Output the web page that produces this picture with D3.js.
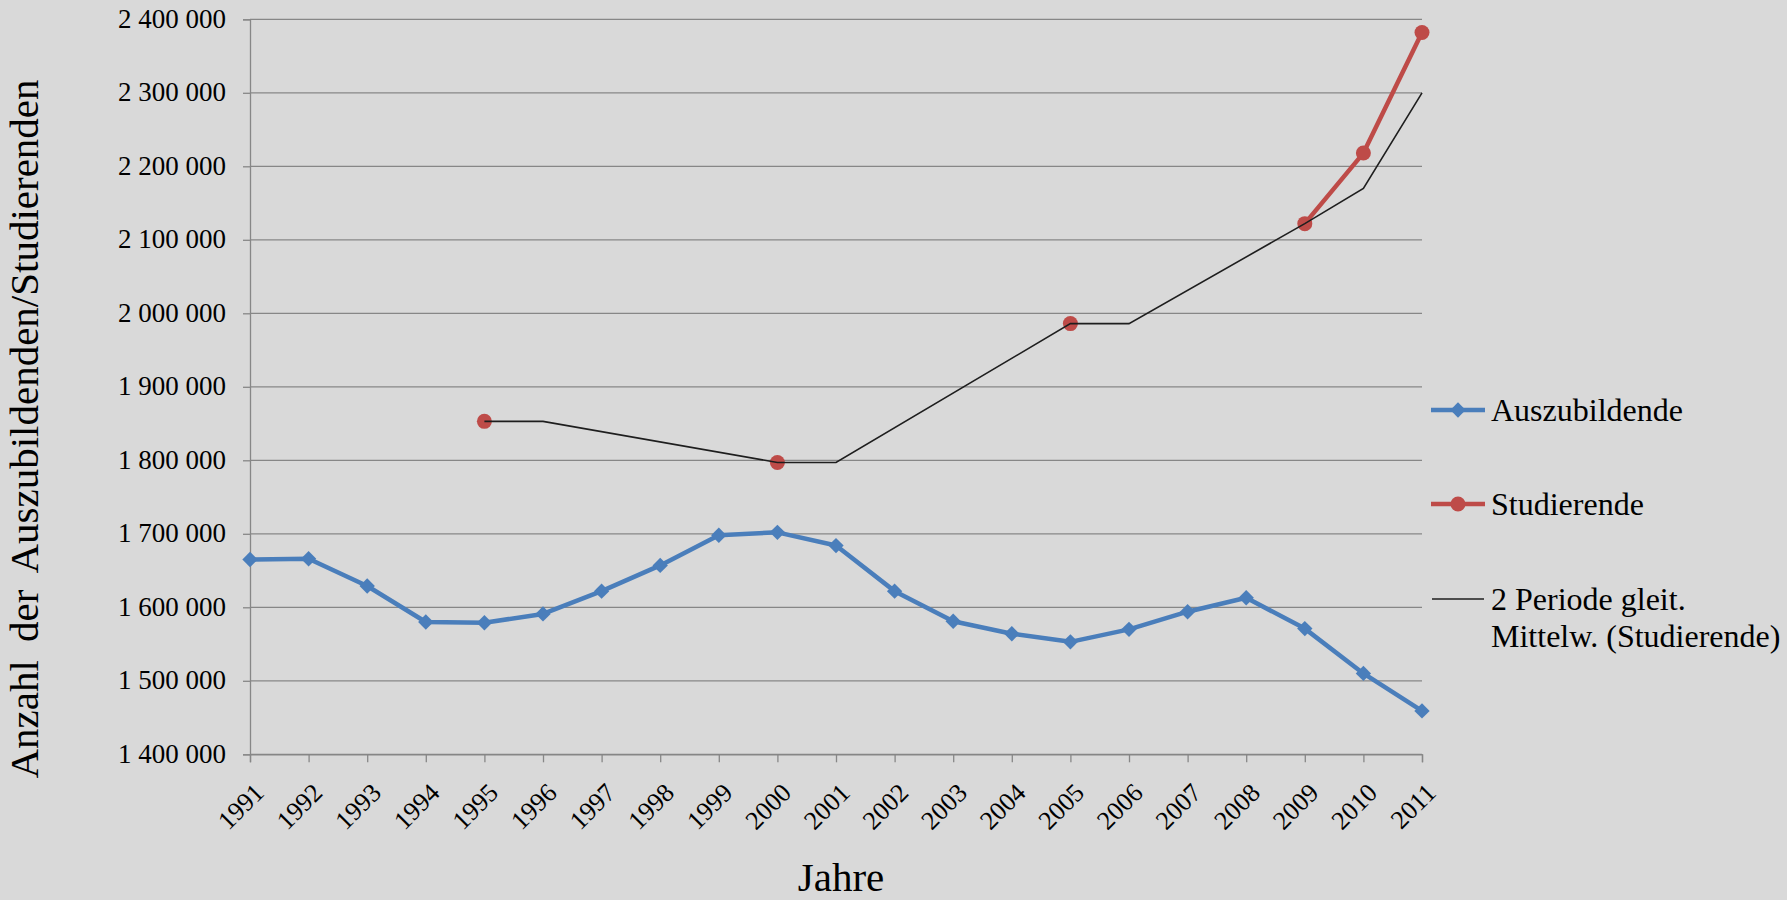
<!DOCTYPE html>
<html>
<head>
<meta charset="utf-8">
<script src="https://cdn.jsdelivr.net/npm/d3@7"></script>
<style>
  html, body { margin: 0; padding: 0; background: #d9d9d9; }
  svg { display: block; }
  text { font-family: "Liberation Serif", "Times New Roman", serif; fill: #000; }
</style>
</head>
<body>
<svg id="chart" width="1787" height="900"></svg>
<script>
// Jahre 1991–2011
const years = [1991, 1992, 1993, 1994, 1995, 1996, 1997, 1998, 1999, 2000,
               2001, 2002, 2003, 2004, 2005, 2006, 2007, 2008, 2009, 2010, 2011];

// Auszubildende je Jahr
const auszubildende = [1665000, 1666000, 1629000, 1580000, 1579000, 1591000, 1622000,
                       1657000, 1698000, 1702000, 1684000, 1622000, 1581000, 1564000,
                       1553000, 1570000, 1594000, 1613000, 1571000, 1510000, 1459000];

// Studierende (nur einzelne Jahre erhoben)
const studierende = [null, null, null, null, 1853000, null, null, null, null, 1797000,
                     null, null, null, null, 1986000, null, null, null, 2122000, 2218000, 2382000];

// Gleitender Mittelwert über 2 Perioden (Studierende)
const mittelwert = [null, null, null, null, 1853000, 1853000, null, null, null, 1797000,
                    1797000, null, null, null, 1986000, 1986000, null, null, 2122000, 2170000, 2300000];

const yTicks = [1400000, 1500000, 1600000, 1700000, 1800000, 1900000,
                2000000, 2100000, 2200000, 2300000, 2400000];

const legendLabels = ["Auszubildende", "Studierende", ["2 Periode gleit.", "Mittelw. (Studierende)"]];

(function () {
  const svg = d3.select("#chart");
  const plotLeft = 250, plotRight = 1422, plotTop = 19.3, plotBottom = 754.3;

  const x = d3.scaleLinear().domain([1991, 2011]).range([plotLeft, plotRight]);
  const y = d3.scaleLinear().domain([1400000, 2400000]).range([plotBottom, plotTop]);

  const locale = d3.formatLocale({ decimal: ",", thousands: "\u00a0", grouping: [3], currency: ["", ""] });
  const fmt = locale.format(",d");

  const gridColor = "#878787";
  const serif = "'Liberation Serif', 'Times New Roman', serif";

  // Gitternetzlinien
  svg.append("g")
    .selectAll("line")
    .data(yTicks)
    .join("line")
    .attr("x1", plotLeft).attr("x2", plotRight)
    .attr("y1", d => y(d)).attr("y2", d => y(d))
    .attr("stroke", gridColor).attr("stroke-width", 1.3);

  // Y-Achse
  const yAxis = svg.append("g")
    .attr("transform", `translate(${plotLeft},0)`)
    .call(d3.axisLeft(y).tickValues(yTicks).tickSize(7).tickPadding(17).tickFormat(fmt));
  yAxis.attr("font-family", null).attr("font-size", null);
  yAxis.select(".domain").attr("stroke", gridColor).attr("stroke-width", 1.3);
  yAxis.selectAll(".tick line").attr("stroke", gridColor).attr("stroke-width", 1.3);
  yAxis.selectAll(".tick text")
    .style("font-family", serif).style("font-size", "27px")
    .attr("fill", "#000").attr("dy", "0.3em");

  // X-Achse
  const xAxis = svg.append("g")
    .attr("transform", `translate(0,${plotBottom})`)
    .call(d3.axisBottom(x).tickValues(years).tickSize(8).tickFormat(d3.format("d")));
  xAxis.attr("font-family", null).attr("font-size", null);
  xAxis.select(".domain").attr("stroke", gridColor).attr("stroke-width", 1.3);
  xAxis.selectAll(".tick line").attr("stroke", gridColor).attr("stroke-width", 1.3);
  xAxis.selectAll(".tick text")
    .style("font-family", serif).style("font-size", "26px")
    .attr("fill", "#000")
    .attr("text-anchor", "end")
    .attr("y", 0).attr("dy", "0.32em")
    .attr("transform", "translate(9,34) rotate(-45)");

  // Achsentitel
  svg.append("text")
    .attr("transform", "translate(38,429) rotate(-90)")
    .attr("text-anchor", "middle")
    .style("font-size", "41px")
    .style("word-spacing", "8px")
    .text("Anzahl der Auszubildenden/Studierenden");

  svg.append("text")
    .attr("x", 841).attr("y", 891)
    .attr("text-anchor", "middle")
    .style("font-size", "41px")
    .text("Jahre");

  const blue = "#4a7ebb", red = "#be4b48";

  const azData = years.map((yr, i) => ({ yr, v: auszubildende[i] }));
  const stData = years.map((yr, i) => ({ yr, v: studierende[i] }));
  const maData = years.map((yr, i) => ({ yr, v: mittelwert[i] })).filter(d => d.v !== null);

  const line = d3.line().x(d => x(d.yr)).y(d => y(d.v));
  const lineGaps = d3.line().defined(d => d.v !== null).x(d => x(d.yr)).y(d => y(d.v));

  // Auszubildende
  svg.append("path").datum(azData)
    .attr("d", line).attr("fill", "none")
    .attr("stroke", blue).attr("stroke-width", 4.5).attr("stroke-linejoin", "round");

  const diamond = d3.symbol().type(d3.symbolDiamond2).size(150);
  svg.append("g").selectAll("path")
    .data(azData).join("path")
    .attr("transform", d => `translate(${x(d.yr)},${y(d.v)})`)
    .attr("d", diamond).attr("fill", blue);

  // Studierende
  svg.append("path").datum(stData)
    .attr("d", lineGaps).attr("fill", "none")
    .attr("stroke", red).attr("stroke-width", 4.5).attr("stroke-linejoin", "round");

  svg.append("g").selectAll("circle")
    .data(stData.filter(d => d.v !== null)).join("circle")
    .attr("cx", d => x(d.yr)).attr("cy", d => y(d.v)).attr("r", 7.5)
    .attr("fill", red);

  // Gleitender Mittelwert
  svg.append("path").datum(maData)
    .attr("d", line).attr("fill", "none")
    .attr("stroke", "#1e1e1e").attr("stroke-width", 1.6);

  // Legende
  const lg = svg.append("g");
  const lx1 = 1431, lx2 = 1485, lxm = 1458, tx = 1491;

  lg.append("line").attr("x1", lx1).attr("x2", lx2).attr("y1", 410).attr("y2", 410)
    .attr("stroke", blue).attr("stroke-width", 4.5);
  lg.append("path").attr("transform", `translate(${lxm},410)`).attr("d", diamond).attr("fill", blue);
  lg.append("text").attr("x", tx).attr("y", 421).style("font-size", "32px").text(legendLabels[0]);

  lg.append("line").attr("x1", lx1).attr("x2", lx2).attr("y1", 504).attr("y2", 504)
    .attr("stroke", red).attr("stroke-width", 4.5);
  lg.append("circle").attr("cx", lxm).attr("cy", 504).attr("r", 7.5).attr("fill", red);
  lg.append("text").attr("x", tx).attr("y", 515).style("font-size", "32px").text(legendLabels[1]);

  lg.append("line").attr("x1", lx1 + 1).attr("x2", lx2 - 1).attr("y1", 599).attr("y2", 599)
    .attr("stroke", "#1e1e1e").attr("stroke-width", 1.6);
  const t3 = lg.append("text").attr("x", tx).attr("y", 610).style("font-size", "32px");
  t3.selectAll("tspan").data(legendLabels[2]).join("tspan")
    .attr("x", tx).attr("dy", (d, i) => i === 0 ? 0 : 37).text(d => d);
})();
</script>
</body>
</html>
